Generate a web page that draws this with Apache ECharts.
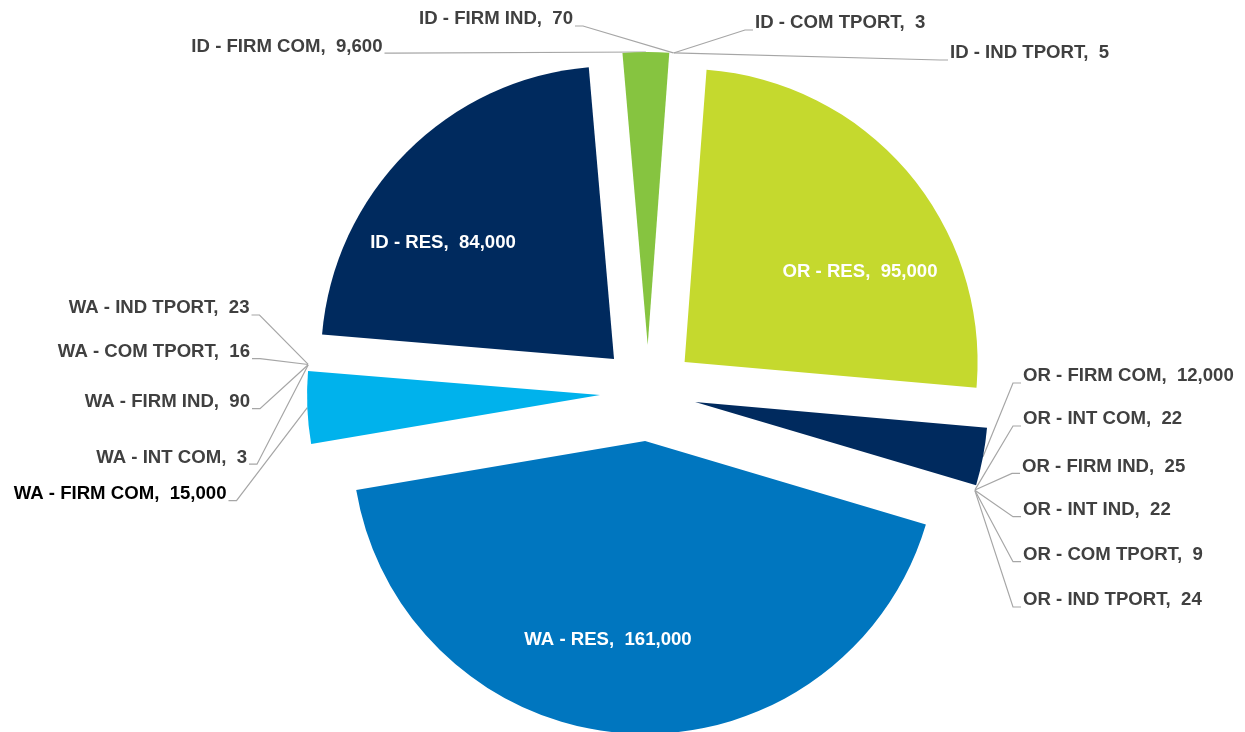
<!DOCTYPE html>
<html>
<head>
<meta charset="utf-8">
<script src="https://cdn.jsdelivr.net/npm/echarts@6/dist/echarts.min.js"></script>
<style>
  html, body { margin: 0; padding: 0; background: #ffffff; }
  #chart { width: 1245px; height: 732px; }
</style>
</head>
<body>
<div id="chart"></div>
<script>
// ---- data ----
var categories = [
  'OR - RES', 'OR - FIRM COM', 'OR - INT COM', 'OR - FIRM IND', 'OR - INT IND', 'OR - COM TPORT', 'OR - IND TPORT',
  'WA - RES', 'WA - FIRM COM', 'WA - INT COM', 'WA - FIRM IND', 'WA - COM TPORT', 'WA - IND TPORT',
  'ID - RES', 'ID - FIRM COM', 'ID - FIRM IND', 'ID - COM TPORT', 'ID - IND TPORT'
];
var values = [
  95000, 12000, 22, 25, 22, 9, 24,
  161000, 15000, 3, 90, 16, 23,
  84000, 9600, 70, 3, 5
];
var sliceColors = [
  '#C5D92E', '#002A5E', '#FFFFFF', '#FFFFFF', '#FFFFFF', '#FFFFFF', '#FFFFFF',
  '#0076BF', '#00B2EC', '#FFFFFF', '#FFFFFF', '#FFFFFF', '#FFFFFF',
  '#002A5E', '#86C440', '#FFFFFF', '#FFFFFF', '#FFFFFF'
];

// ---- layout / style (not data) ----
var CX = 648, CY = 393, RADIUS = 293, OFFSET = 48, START = 85.7;
var FONT = 18.6;
// label anchor: [x, capCentreY, align, kind]
var labelPlace = {
  'OR - RES':       [860, 271.5, 'center', 'in'],
  'WA - RES':       [608, 640, 'center', 'in'],
  'ID - RES':       [443, 243, 'center', 'in'],
  'OR - FIRM COM':  [1023, 376.3, 'left', 'out'],
  'OR - INT COM':   [1023, 419.3, 'left', 'out'],
  'OR - FIRM IND':  [1022, 466.7, 'left', 'out'],
  'OR - INT IND':   [1023, 510, 'left', 'out'],
  'OR - COM TPORT': [1023, 555, 'left', 'out'],
  'OR - IND TPORT': [1023, 600.3, 'left', 'out'],
  'WA - FIRM COM':  [226.5, 494, 'right', 'out'],
  'WA - INT COM':   [247, 457.5, 'right', 'out'],
  'WA - FIRM IND':  [250, 402, 'right', 'out'],
  'WA - COM TPORT': [250, 352, 'right', 'out'],
  'WA - IND TPORT': [249.5, 308.3, 'right', 'out'],
  'ID - FIRM COM':  [382.5, 46.5, 'right', 'out'],
  'ID - FIRM IND':  [573, 19.3, 'right', 'out'],
  'ID - COM TPORT': [755, 23.3, 'left', 'out'],
  'ID - IND TPORT': [950, 53.3, 'left', 'out']
};
var labelColor = { 'WA - FIRM COM': '#000000' };

var total = values.reduce(function (a, b) { return a + b; }, 0);
function midAngleDeg(i) {
  var before = 0;
  for (var k = 0; k < i; k++) before += values[k];
  return START - (before + values[i] / 2) / total * 360;
}
function edgePoint(i) {
  var a = midAngleDeg(i) * Math.PI / 180;
  var R = RADIUS + OFFSET;
  return [CX + R * Math.cos(a), CY - R * Math.sin(a)];
}

// exploded slices (no labels)
var sliceData = categories.map(function (name, i) {
  return { name: name, value: values[i], selected: true, itemStyle: { color: sliceColors[i] } };
});
// invisible twin carrying the labels in page coordinates
var labelData = categories.map(function (name, i) {
  var inside = labelPlace[name][3] === 'in';
  return {
    name: name,
    value: values[i],
    itemStyle: { color: 'rgba(0,0,0,0)' },
    label: { show: true, color: inside ? '#FFFFFF' : (labelColor[name] || '#404040') },
    labelLine: { show: !inside }
  };
});

var common = {
  type: 'pie',
  center: [CX, CY],
  radius: [0, RADIUS],
  startAngle: START,
  clockwise: true,
  avoidLabelOverlap: false,
  emphasis: { disabled: true },
  itemStyle: { borderWidth: 0 }
};

var chart = echarts.init(document.getElementById('chart'), null, { renderer: 'canvas' });
chart.setOption({
  animation: false,
  backgroundColor: '#ffffff',
  series: [
    Object.assign({}, common, {
      selectedMode: 'multiple',
      selectedOffset: OFFSET,
      label: { show: false },
      labelLine: { show: false },
      data: sliceData
    }),
    Object.assign({}, common, {
      silent: true,
      selectedMode: false,
      label: {
        show: true,
        position: 'outside',
        fontFamily: 'Liberation Sans, Arial, sans-serif',
        fontWeight: 'bold',
        fontSize: FONT,
        formatter: function (p) {
          return p.name + ',  ' + Number(p.value).toLocaleString('en-US');
        }
      },
      labelLine: {
        show: true,
        lineStyle: { color: '#A6A6A6', width: 1.2 }
      },
      labelLayout: function (params) {
        var i = params.dataIndex;
        var p = labelPlace[categories[i]];
        var res = { x: p[0], y: p[1], align: p[2], verticalAlign: 'middle' };
        if (p[3] === 'out') {
          var base = p[1] + 6.7;
          var e = edgePoint(i);
          var dir = p[2] === 'left' ? -1 : 1;
          res.labelLinePoints = [e, [p[0] + dir * 10, base], [p[0] + dir * 2, base]];
        }
        return res;
      },
      data: labelData
    })
  ]
});
</script>
</body>
</html>
